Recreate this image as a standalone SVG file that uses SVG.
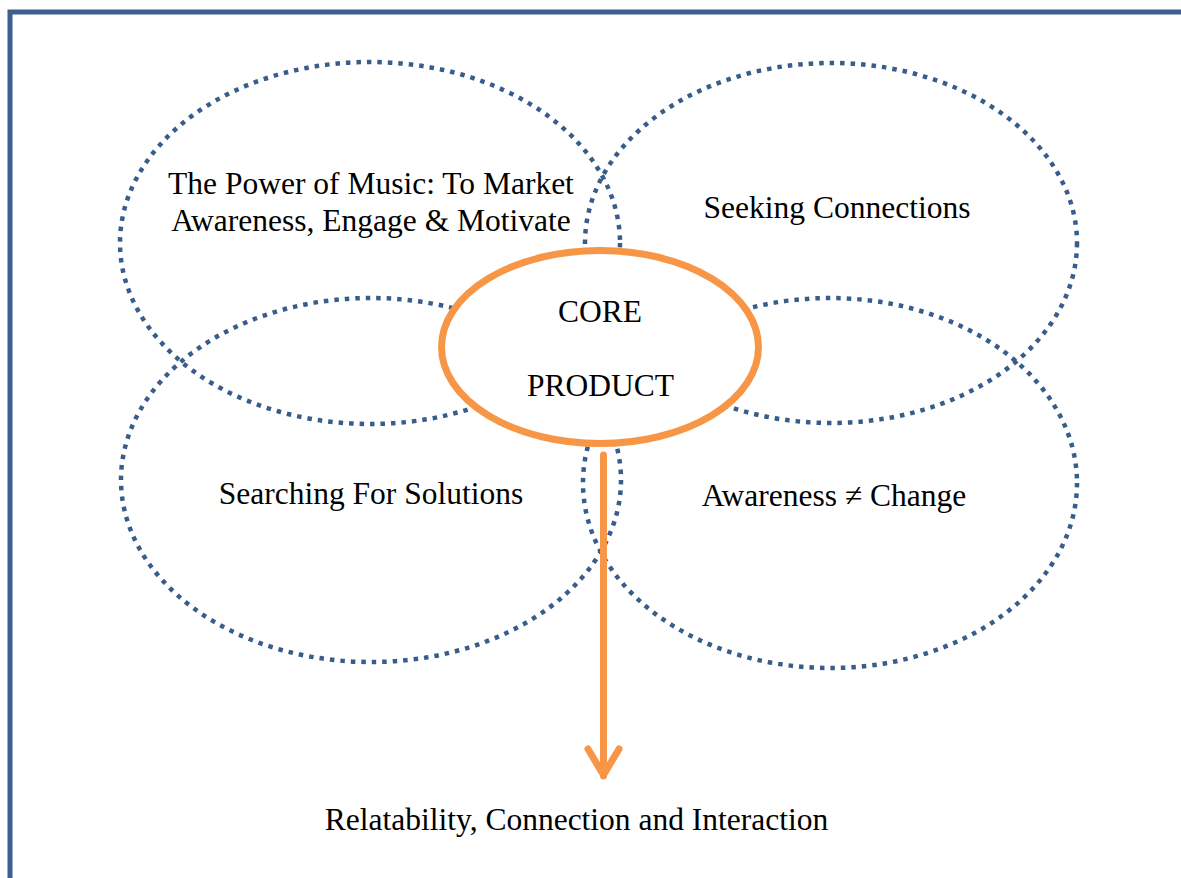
<svg xmlns="http://www.w3.org/2000/svg" width="1181" height="878" viewBox="0 0 1181 878">
<style>
.bg{fill:#ffffff}
.frame{fill:none;stroke:#3C5F8E;stroke-width:5}
.dot{fill:none;stroke:#385D8A;stroke-width:4.5;stroke-dasharray:4.5 6}
.core{fill:#ffffff;stroke:#F79646;stroke-width:7}
.arrow{fill:none;stroke:#F79646;stroke-width:7;stroke-linecap:round;stroke-linejoin:round}
text{font-family:"Liberation Serif","Times New Roman",serif;font-size:31.5px;fill:#000000;text-anchor:middle}
</style>
<rect class="bg" x="0" y="0" width="1181" height="878"/>
<path class="frame" d="M10,878 V12 H1181"/>
<g id="node-power">
<ellipse class="dot" cx="370" cy="243" rx="250" ry="181"/>
</g>
<g id="node-seeking">
<ellipse class="dot" cx="831" cy="243" rx="246" ry="180"/>
</g>
<g id="node-searching">
<ellipse class="dot" cx="371" cy="480" rx="250" ry="182"/>
</g>
<g id="node-awareness">
<ellipse class="dot" cx="830" cy="483" rx="247" ry="185"/>
</g>
<g id="labels">
<text x="371" y="194">The Power of Music: To Market</text>
<text x="371" y="231">Awareness, Engage &amp; Motivate</text>
<text x="837" y="218">Seeking Connections</text>
<text x="371" y="504">Searching For Solutions</text>
<text x="834" y="506">Awareness ≠ Change</text>
</g>
<g id="node-core">
<ellipse class="core" cx="600" cy="347" rx="158.5" ry="96.5"/>
<text x="600" y="322">CORE</text>
<text x="600.5" y="396">PRODUCT</text>
</g>
<g id="connectors">
<path class="arrow" d="M603.5,455 V776"/>
<path class="arrow" d="M588,749 L603.5,775 L619,749"/>
</g>
<g id="node-result">
<text x="576.5" y="830">Relatability, Connection and Interaction</text>
</g>
</svg>
